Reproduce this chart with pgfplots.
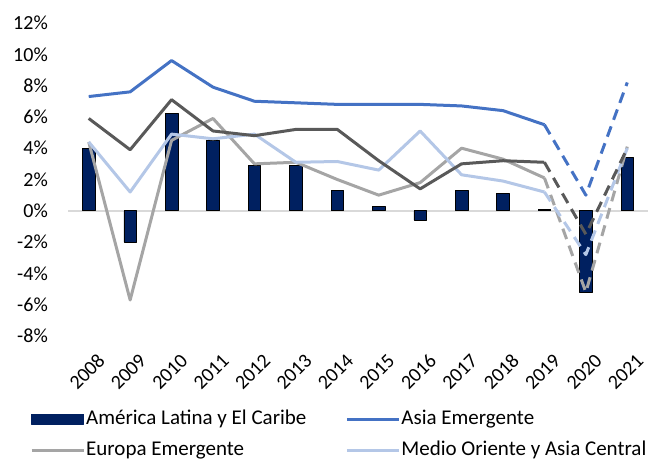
\documentclass[border=0pt]{standalone}
\usepackage{fontspec}
\setmainfont{Carlito}
\usepackage{pgfplots}
\pgfplotsset{compat=1.18}
\definecolor{navy}{HTML}{002060}
\definecolor{asia}{HTML}{4472C4}
\definecolor{euro}{HTML}{A5A5A5}
\definecolor{meca}{HTML}{B4C7E7}
\definecolor{ssa}{HTML}{595959}
\definecolor{zeroline}{HTML}{D9D9D9}
\newcommand{\tickfont}{\fontsize{20}{24}\selectfont}
\newcommand{\legfont}{\fontsize{21}{25}\selectfont}
\begin{document}
\begin{tikzpicture}
\begin{axis}[
  name=ax,
  scale only axis, width=580pt, height=313pt,
  xmin=-0.5, xmax=13.5, ymin=-8, ymax=12,
  axis line style={draw=none},
  tick style={draw=none}, major tick length=0pt,
  ytick={-8,-6,-4,-2,0,2,4,6,8,10,12},
  yticklabels={-8\%,-6\%,-4\%,-2\%,0\%,2\%,4\%,6\%,8\%,10\%,12\%},
  xtick={0,1,2,3,4,5,6,7,8,9,10,11,12,13},
  xticklabels={2008,2009,2010,2011,2012,2013,2014,2015,2016,2017,2018,2019,2020,2021},
  yticklabel style={font=\tickfont, anchor=east, inner sep=0pt, xshift=-20pt},
  xticklabel style={font=\tickfont, rotate=45, anchor=east, inner sep=0pt, xshift=-6pt, yshift=-24pt},
  legend columns=2,
  legend cell align=left,
  legend style={draw=none, fill=none, font=\legfont, at={(0,0)}, anchor=north west,
    xshift=-41pt, yshift=-70pt,
    nodes={inner sep=1pt, text height=15pt, text depth=5pt},
    /tikz/every even column/.append style={column sep=38pt},
    /tikz/row sep=9pt},
  legend image code/.code={\draw[#1] (0pt,0pt) -- (52pt,0pt);},
  line join=round,
]
\draw[zeroline, line width=1.5pt] (axis cs:-0.5,0) -- (axis cs:13.5,0);
\addplot[ybar, bar width=12.5pt, fill=navy, draw=black, line width=0.6pt,
  legend image code/.code={\fill[navy] (0pt,-5pt) rectangle (52pt,5pt);}]
  coordinates {(0,4.0) (1,-2.0) (2,6.2) (3,4.5) (4,2.9) (5,2.9) (6,1.3) (7,0.3) (8,-0.6) (9,1.3) (10,1.1) (11,0.1) (12,-5.2) (13,3.4)};
\addlegendentry{América Latina y El Caribe}
% Asia Emergente
\addplot[asia, line width=3pt] coordinates {(0,7.3) (1,7.6) (2,9.6) (3,7.9) (4,7.0) (5,6.9) (6,6.8) (7,6.8) (8,6.8) (9,6.7) (10,6.4) (11,5.5)};
\addlegendentry{Asia Emergente}
\addplot[asia, line width=3pt, dash pattern=on 11pt off 7pt, forget plot] coordinates {(11,5.5) (12,1.0) (13,8.2)};
% Europa Emergente
\addplot[euro, line width=3pt] coordinates {(0,4.4) (1,-5.7) (2,4.5) (3,5.9) (4,3.0) (5,3.1) (6,2.0) (7,1.0) (8,1.8) (9,4.0) (10,3.3) (11,2.1)};
\addlegendentry{Europa Emergente}
\addplot[euro, line width=3pt, dash pattern=on 11pt off 7pt, forget plot] coordinates {(11,2.1) (12,-5.2) (13,4.1)};
% Medio Oriente y Asia Central
\addplot[meca, line width=3pt] coordinates {(0,4.4) (1,1.2) (2,4.9) (3,4.6) (4,4.9) (5,3.1) (6,3.15) (7,2.6) (8,5.1) (9,2.3) (10,1.9) (11,1.2)};
\addlegendentry{Medio Oriente y Asia Central}
\addplot[meca, line width=3pt, dash pattern=on 11pt off 7pt, forget plot] coordinates {(11,1.2) (12,-2.8) (13,4.0)};
% Africa Subsahariana (legend entry cut off in reference)
\addplot[ssa, line width=3pt, forget plot] coordinates {(0,5.9) (1,3.9) (2,7.1) (3,5.1) (4,4.8) (5,5.2) (6,5.2) (7,3.2) (8,1.4) (9,3.0) (10,3.2) (11,3.1)};
\addplot[ssa, line width=3pt, dash pattern=on 11pt off 7pt, forget plot] coordinates {(11,3.1) (12,-1.5) (13,4.0)};
\end{axis}
\pgfresetboundingbox
\path[use as bounding box] ([xshift=-68pt,yshift=23pt]ax.north west) rectangle ([xshift=10pt,yshift=-123pt]ax.south east);
\end{tikzpicture}
\end{document}
